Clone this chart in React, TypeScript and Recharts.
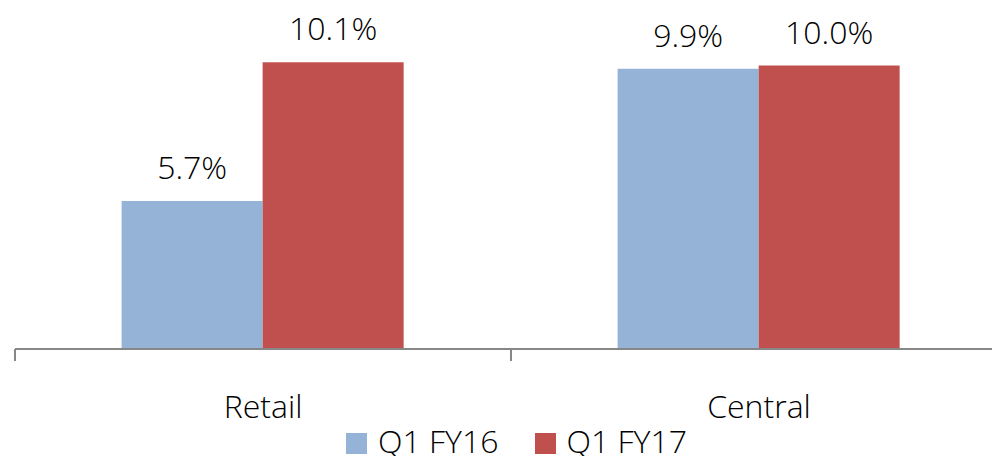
import React from 'react';
import { BarChart, Bar, XAxis, YAxis, Legend, LabelList } from 'recharts';

const categories = ['Retail', 'Central'];
const q1fy16 = [5.7, 9.9];
const q1fy17 = [10.1, 10.0];
const seriesNames = ['Q1 FY16', 'Q1 FY17'];
const seriesColors = ['#95B3D7', '#C0504D'];

const data = categories.map((c, i) => ({ name: c, fy16: q1fy16[i], fy17: q1fy17[i] }));

const CHART_W = 1007;
const CHART_H = 470;
const MARGIN = { top: 34, right: 0, left: 15, bottom: 17 };
const PLOT_W = CHART_W - MARGIN.left - MARGIN.right;
const HALF_BAND = PLOT_W / categories.length / 2;
const FONT = '"Open Sans", "DejaVu Sans", sans-serif';
const FONT_SIZE = 32;
const AXIS_COLOR = '#878787';

const CategoryTick = (props: any) => {
  const { x, y, payload, index } = props;
  const last = index === categories.length - 1;
  return (
    <g>
      <line x1={x - HALF_BAND} x2={x - HALF_BAND} y1={y} y2={y + 12} stroke={AXIS_COLOR} strokeWidth={2} />
      {last && (
        <line x1={x + HALF_BAND} x2={x + HALF_BAND} y1={y} y2={y + 12} stroke={AXIS_COLOR} strokeWidth={2} />
      )}
      <text x={x} y={y + 69} textAnchor="middle" fontFamily={FONT} fontWeight={300} fontSize={FONT_SIZE} fill="#000">
        {payload.value}
      </text>
    </g>
  );
};

const LegendContent = () => (
  <div
    style={{
      display: 'flex',
      justifyContent: 'center',
      alignItems: 'center',
      height: 24,
      paddingLeft: 11,
      fontFamily: FONT,
      fontWeight: 300,
      fontSize: FONT_SIZE,
      lineHeight: '24px',
      color: '#000',
    }}
  >
    {seriesNames.map((n, i) => (
      <div key={n} style={{ display: 'flex', alignItems: 'center', height: 24, marginRight: i === 0 ? 36 : 0 }}>
        <div style={{ width: 21, height: 21, background: seriesColors[i], marginRight: 11, marginTop: 5 }} />
        <span style={{ display: 'inline-block', height: 24, lineHeight: '24px', overflow: 'visible' }}>{n}</span>
      </div>
    ))}
  </div>
);

const fmt = (v: any) => `${Number(v).toFixed(1)}%`;

export default function App() {
  return (
    <div style={{ position: 'absolute', left: 0, top: 0, width: 992, height: 456, overflow: 'hidden', background: '#fff' }}>
      <BarChart width={CHART_W} height={CHART_H} data={data} margin={MARGIN} barCategoryGap="21.5%" barGap={0}>
        <XAxis
          dataKey="name"
          axisLine={{ stroke: AXIS_COLOR, strokeWidth: 2 }}
          tickLine={false}
          tickSize={0}
          tickMargin={0}
          height={80}
          interval={0}
          tick={<CategoryTick />}
        />
        <YAxis hide domain={[1, 11]} />
        <Legend verticalAlign="bottom" content={<LegendContent />} />
        <Bar dataKey="fy16" name={seriesNames[0]} fill={seriesColors[0]} isAnimationActive={false}>
          <LabelList dataKey="fy16" position="top" offset={22} formatter={fmt} fill="#000" fontSize={FONT_SIZE} fontFamily={FONT} fontWeight={300} />
        </Bar>
        <Bar dataKey="fy17" name={seriesNames[1]} fill={seriesColors[1]} isAnimationActive={false}>
          <LabelList dataKey="fy17" position="top" offset={22} formatter={fmt} fill="#000" fontSize={FONT_SIZE} fontFamily={FONT} fontWeight={300} />
        </Bar>
      </BarChart>
    </div>
  );
}
